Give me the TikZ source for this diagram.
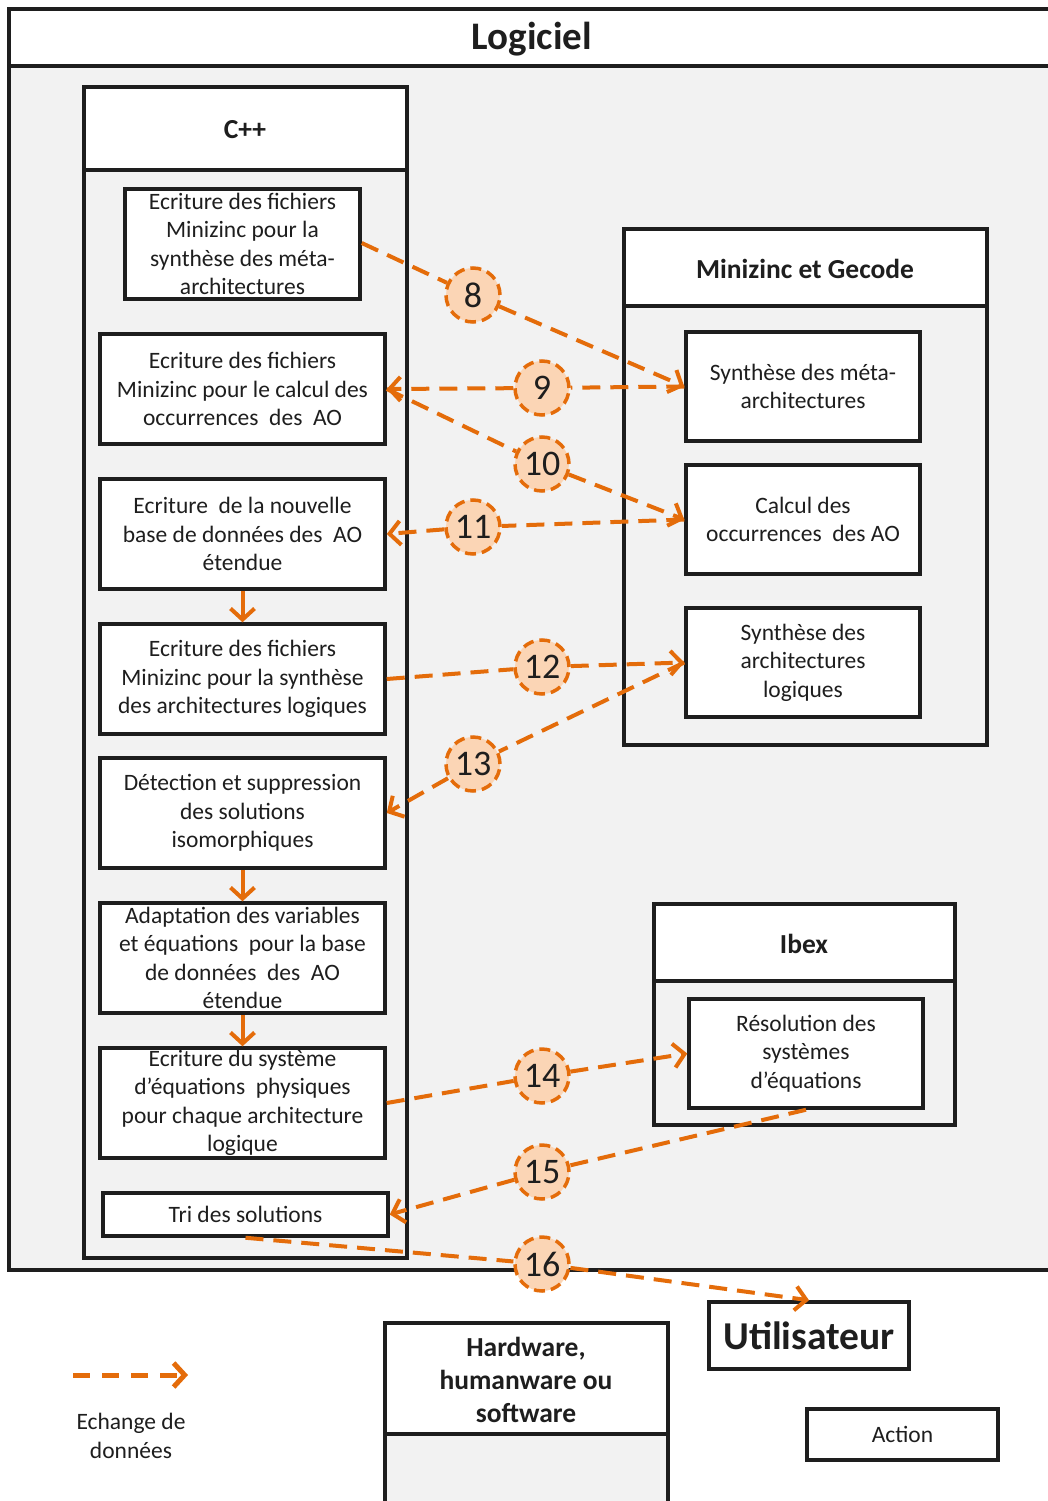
\documentclass[tikz,border=0pt]{standalone}
\usepackage{fontspec}
\setmainfont{Carlito}
\usetikzlibrary{arrows.meta}

\definecolor{ora}{RGB}{228,108,10}
\definecolor{peach}{RGB}{251,213,181}
\definecolor{bg}{RGB}{242,242,242}
\definecolor{ink}{RGB}{30,30,30}

\tikzset{
	frame/.style={draw=ink, line width=3.5pt},
	box/.style={frame, fill=white, align=center, inner sep=0pt, text=ink, font=\fontsize{23.5}{28.5}\selectfont},
	title/.style={text=ink, align=center, font=\bfseries\fontsize{27.5}{33}\selectfont},
	num/.style={circle, draw=ora, fill=peach, line width=3.5pt, dash pattern=on 11pt off 6pt, minimum size=54pt, inner sep=0pt, text=ink, font=\fontsize{36}{36}\selectfont},
	flow/.style={draw=ora, line width=4pt, dash pattern=on 18pt off 10pt, -{Straight Barb[length=11pt,width=24pt]}},
	seq/.style={draw=ora, line width=4pt, -{Straight Barb[length=11pt,width=24pt]}}
}

\begin{document}
\begin{tikzpicture}[x=1pt, y=-1pt]
\useasboundingbox[fill=white] (0,0) rectangle (1048,1501);

% containers
\draw[frame, fill=bg] (9,9) rectangle (1070,1270);
\draw[frame, fill=white] (9,9) rectangle (1070,66);
\node[title, font=\bfseries\fontsize{39}{39}\selectfont] (logiciel) at (532,39) {Logiciel};

\draw[frame, fill=bg] (84,87) rectangle (407,1258);
\draw[frame, fill=white] (84,87) rectangle (407,170);
\node[title, font=\bfseries\fontsize{27.5}{27.5}\selectfont] (cpp) at (245,130) {C++};

\draw[frame, fill=bg] (624,229) rectangle (987,745);
\draw[frame, fill=white] (624,229) rectangle (987,306);
\node[title, font=\bfseries\fontsize{27.5}{27.5}\selectfont] (mzn) at (805,269) {Minizinc et Gecode};

\draw[frame, fill=bg] (654,904) rectangle (955,1125);
\draw[frame, fill=white] (654,904) rectangle (955,981);
\node[title, font=\bfseries\fontsize{27.5}{27.5}\selectfont] (ibex) at (804,944) {Ibex};

\draw[frame, fill=bg] (385,1323) rectangle (668,1530);
\draw[frame, fill=white] (385,1323) rectangle (668,1434);
\node[title] (hw) at (526,1380) {Hardware,\\humanware ou\\software};

% C++ steps
\node[box, minimum width=235pt, minimum height=110pt] (b1) at (242.5,244) {Ecriture des fichiers\\Minizinc pour la\\synthèse des méta-\\architectures};
\node[box, minimum width=285pt, minimum height=110pt] (b2) at (242.5,389) {Ecriture des fichiers\\Minizinc pour le calcul des\\occurrences\ \ des\ \ AO};
\node[box, minimum width=285pt, minimum height=110pt] (b3) at (242.5,534) {Ecriture\ \ de la nouvelle\\base de données des\ \ AO\\étendue};
\node[box, minimum width=285pt, minimum height=110pt] (b4) at (242.5,679) {Ecriture des fichiers\\Minizinc pour la synthèse\\des architectures logiques};
\node[box, minimum width=285pt, minimum height=110pt] (b5) at (242.5,813) {Détection et suppression\\des solutions\\isomorphiques};
\node[box, minimum width=285pt, minimum height=110pt] (b6) at (242.5,958) {Adaptation des variables\\et équations\ \ pour la base\\de données\ \ des\ \ AO\\étendue};
\node[box, minimum width=285pt, minimum height=110pt] (b7) at (242.5,1103) {Ecriture du système\\d’équations\ \ physiques\\pour chaque architecture\\logique};
\node[box, minimum width=285pt, minimum height=43pt] (tri) at (245.5,1214.5) {Tri des solutions};

% solveurs
\node[box, minimum width=234pt, minimum height=109pt] (m1) at (803,386.5) {Synthèse des méta-\\architectures};
\node[box, minimum width=234pt, minimum height=109pt] (m2) at (803,519.5) {Calcul des\\occurrences\ \ des AO};
\node[box, minimum width=234pt, minimum height=109pt] (m3) at (803,662.5) {Synthèse des\\architectures\\logiques};
\node[box, minimum width=234pt, minimum height=109pt] (r1) at (806,1053.5) {Résolution des\\systèmes\\d’équations};

\node[box, minimum width=200pt, minimum height=67pt, font=\bfseries\fontsize{39.5}{39.5}\selectfont] (user) at (809,1335.5) {Utilisateur};
\node[box, minimum width=191pt, minimum height=51pt] (action) at (902.5,1434.5) {Action};

% numbered exchanges
\node[num] (c8) at (473,295) {8};
\node[num] (c9) at (542,388) {9};
\node[num] (c10) at (542,464) {10};
\node[num] (c11) at (473,527) {11};
\node[num] (c12) at (542,667) {12};
\node[num] (c13) at (473,764) {13};
\node[num] (c14) at (542,1076) {14};
\node[num] (c15) at (542,1172) {15};
\node[num] (c16) at (542,1264) {16};

\draw[flow] (b1.east) ++(0,-1) -- (c8) -- (m1.west);
\draw[flow] (m1.west) -- (c9) -- (b2.east);
\draw[flow] (b2.east) -- (c10) -- (m2.west);
\draw[flow] (m2.west) -- (c11) -- (b3.east);
\draw[flow] (b4.east) -- (c12) -- (m3.west);
\draw[flow] (m3.west) -- (c13) -- (b5.east);
\draw[flow] (b7.east) -- (c14) -- (r1.west);
\draw[flow] (r1.south) -- (c15) -- (tri.east);
\draw[flow] (tri.south) -- (c16) -- (user.north);

\draw[seq] (b3) -- (b4);
\draw[seq] (b5) -- (b6);
\draw[seq] (b6) -- (b7);

% legend
\coordinate (l0) at (73,1375);
\coordinate (l1) at (188,1375);
\draw[flow, line width=5pt, dash pattern=on 17pt off 12pt] (l0) -- (l1);
\node[text=ink, align=center, font=\fontsize{23.5}{29}\selectfont] (leg) at (131,1436) {Echange de\\données};

\end{tikzpicture}
\end{document}
